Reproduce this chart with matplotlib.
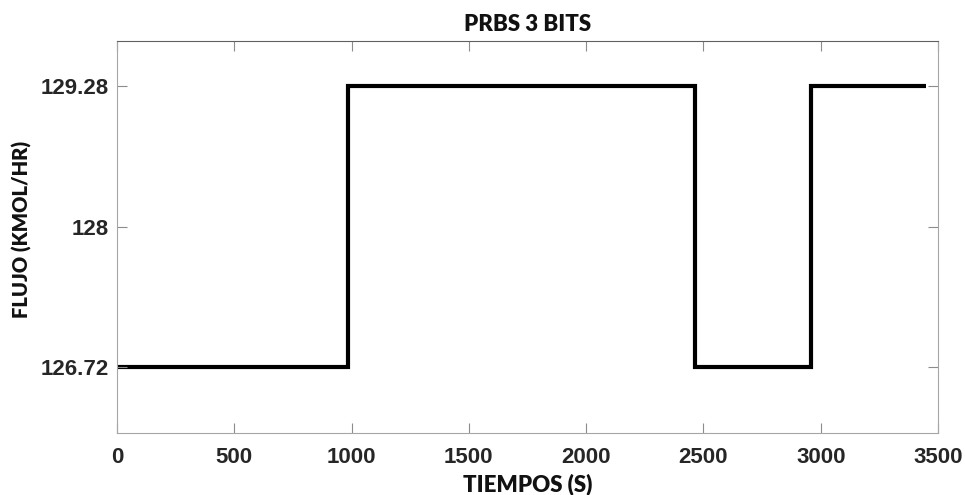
import matplotlib
matplotlib.use("Agg")
import matplotlib.pyplot as plt

# PRBS 3-bit signal, switching instants [s] and flow levels [kmol/hr]
switch_times = [0, 986, 2465, 2958, 3451]
flow_levels = [126.72, 129.28, 126.72, 129.28]

x_ticks = [0, 500, 1000, 1500, 2000, 2500, 3000, 3500]
y_ticks = [126.72, 128, 129.28]
y_tick_labels = ["126.72", "128", "129.28"]

fig = plt.figure(figsize=(9.65, 4.95), dpi=100)
ax = fig.add_axes([0.1212, 0.1253, 0.8508, 0.7917])

ax.stairs(flow_levels, switch_times, baseline=None, color="black", linewidth=3.0)

ax.set_xlim(0, 3500)
ax.set_ylim(126.12, 129.69)
ax.set_xticks(x_ticks)
ax.set_yticks(y_ticks)
ax.set_yticklabels(y_tick_labels)

tick_font = dict(family="Liberation Sans", weight="bold", size=16)
for lab in ax.get_xticklabels() + ax.get_yticklabels():
    lab.set_fontproperties(matplotlib.font_manager.FontProperties(**tick_font))
    lab.set_color("#262626")

ax.tick_params(axis="both", direction="in", length=7, width=0.8,
               color="#8c8c8c", top=True, right=True)
ax.tick_params(axis="x", pad=10)
ax.tick_params(axis="y", pad=6)
for side in ["left", "bottom", "right"]:
    ax.spines[side].set_color("#a6a6a6")
ax.spines["top"].set_color("#606060")

label_font = dict(family="Lato", weight="heavy", size=16, color="#111111")
ax.set_title("PRBS 3 BITS", pad=7, **label_font)
ax.set_xlabel("TIEMPOS (S)", labelpad=4, **label_font)
ax.set_ylabel("FLUJO (KMOL/HR)", family="Lato", weight="heavy",
              size=14.5, color="#111111")
ax.yaxis.set_label_coords(-0.103, 0.52)

fig.savefig("out.png", dpi=100)
